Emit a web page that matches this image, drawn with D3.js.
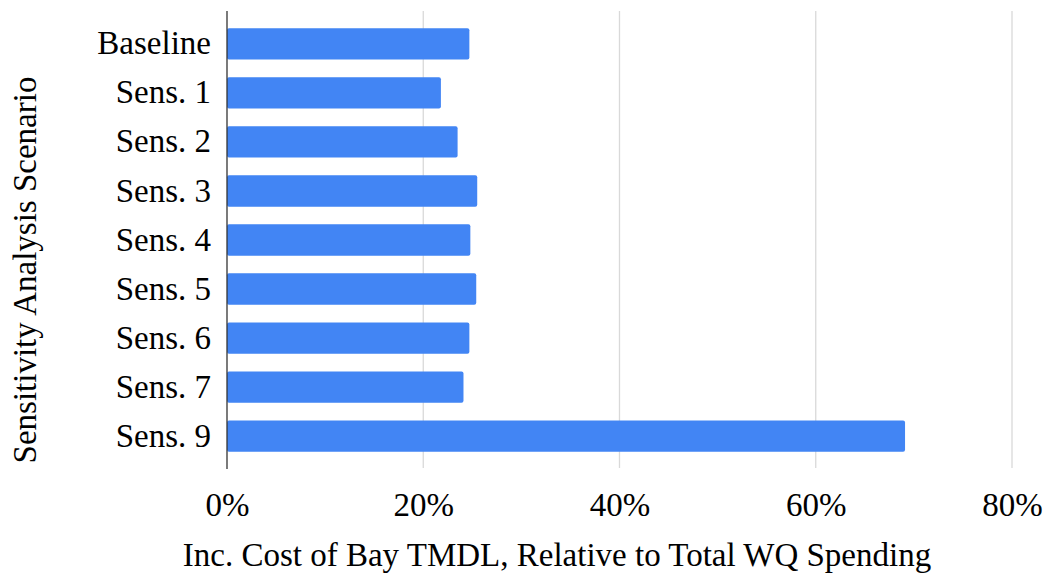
<!DOCTYPE html>
<html>
<head>
<meta charset="utf-8">
<script src="https://cdn.jsdelivr.net/npm/d3@7"></script>
<style>
  html, body { margin: 0; padding: 0; background: #fff; }
  svg { display: block; }
  text { font-family: "Liberation Serif", "Times New Roman", serif; fill: #000; }
</style>
</head>
<body>
<svg id="chart" width="1046" height="574"></svg>
<script>
// Sensitivity scenarios and the incremental cost share for each (percent)
const scenarios = ["Baseline", "Sens. 1", "Sens. 2", "Sens. 3", "Sens. 4", "Sens. 5", "Sens. 6", "Sens. 7", "Sens. 9"];
const costShare = [24.7, 21.8, 23.5, 25.5, 24.8, 25.4, 24.7, 24.1, 69.1];
const xTicks = [0, 20, 40, 60, 80];
const xTitle = "Inc. Cost of Bay TMDL, Relative to Total WQ Spending";
const yTitle = "Sensitivity Analysis Scenario";

const svg = d3.select("#chart");
const plot = { left: 227, right: 1012, top: 11, bottom: 469 };
const fontSize = 33;

const x = d3.scaleLinear().domain([0, 80]).range([plot.left, plot.right]);
const y = d3.scaleBand()
  .domain(scenarios)
  .range([plot.top, plot.bottom])
  .paddingInner(0.36)
  .paddingOuter(0.35);

// vertical gridlines
svg.append("g")
  .selectAll("line")
  .data(xTicks.filter(d => d > 0))
  .join("line")
  .attr("x1", d => x(d)).attr("x2", d => x(d))
  .attr("y1", plot.top).attr("y2", plot.bottom - 1)
  .attr("stroke", "#d9d9d9")
  .attr("stroke-width", 1.3);

// bars
svg.append("g")
  .selectAll("rect")
  .data(scenarios.map((s, i) => ({ s, v: costShare[i] })))
  .join("rect")
  .attr("x", x(0))
  .attr("y", d => y(d.s))
  .attr("width", d => x(d.v) - x(0))
  .attr("height", y.bandwidth())
  .attr("rx", 2).attr("ry", 2)
  .attr("fill", "#4285f4");

// category axis line
svg.append("line")
  .attr("x1", x(0)).attr("x2", x(0))
  .attr("y1", plot.top).attr("y2", plot.bottom)
  .attr("stroke", "#333")
  .attr("stroke-width", 1.3);

// category labels
const yAxis = d3.axisLeft(y).tickSize(0).tickPadding(16);
const gy = svg.append("g").attr("transform", `translate(${x(0)},0)`).call(yAxis);
gy.select(".domain").remove();
gy.selectAll("text")
  .attr("font-size", fontSize)
  .attr("font-family", "Liberation Serif, Times New Roman, serif")
  .attr("fill", "#000");

// value axis labels
const xAxis = d3.axisBottom(x).tickValues(xTicks).tickFormat(d => d + "%").tickSize(0).tickPadding(0);
const gx = svg.append("g").attr("transform", `translate(0,${plot.bottom})`).call(xAxis);
gx.select(".domain").remove();
gx.selectAll("text")
  .attr("font-size", fontSize)
  .attr("font-family", "Liberation Serif, Times New Roman, serif")
  .attr("fill", "#000")
  .attr("dy", null)
  .attr("y", 47);

// axis titles
svg.append("text")
  .attr("x", 557)
  .attr("y", 566)
  .attr("text-anchor", "middle")
  .attr("font-size", fontSize)
  .text(xTitle);

svg.append("text")
  .attr("transform", "translate(36,270) rotate(-90)")
  .attr("text-anchor", "middle")
  .attr("font-size", fontSize)
  .text(yTitle);
</script>
</body>
</html>
